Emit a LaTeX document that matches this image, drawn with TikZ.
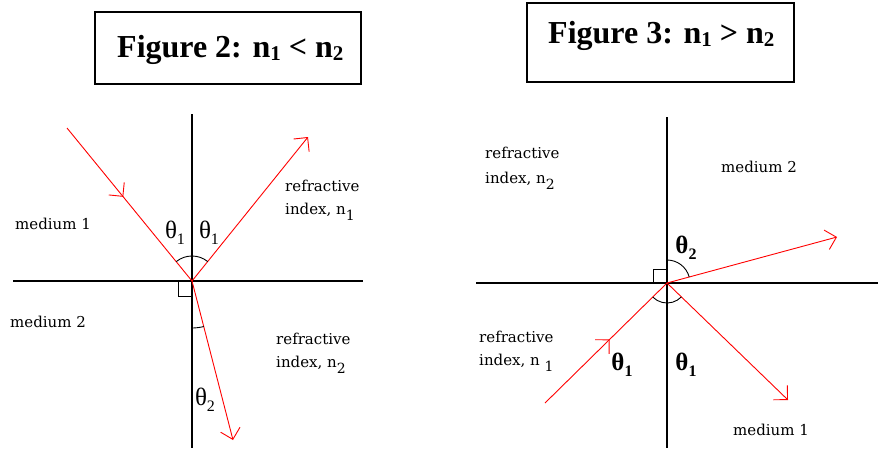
\documentclass[tikz,border=0pt]{standalone}
\usepackage{fontspec}
\setmainfont{Liberation Serif}
\newfontfamily\lblfont{DejaVu Serif}
\usetikzlibrary{arrows.meta,decorations.markings}
\tikzset{
  axis/.style={line width=1.4pt, black},
  ray/.style={red, line width=0.9pt},
  endtip/.style={-{Straight Barb[length=10pt,width=20pt]}},
  midtip/.style={postaction={decorate}, decoration={markings, mark=at position #1 with {\arrow{Straight Barb[length=10pt,width=20pt]}}}},
  anglearc/.style={black, line width=0.9pt},
  lbl/.style={font=\lblfont\fontsize{15}{17}\selectfont, inner sep=0pt, anchor=base west},
  th/.style={font=\fontsize{25}{25}\selectfont, inner sep=0pt},
  thb/.style={font=\bfseries\fontsize{25}{25}\selectfont, inner sep=0pt},
  ttl/.style={font=\bfseries\fontsize{32}{32}\selectfont, inner sep=0pt, anchor=base west},
  titlebox/.style={black, line width=1.4pt}
}
\newcommand{\lsub}[1]{\raisebox{-6pt}{\fontsize{14}{14}\selectfont #1}}
\newcommand{\tsub}[1]{\raisebox{-6pt}{\fontsize{16}{16}\selectfont #1}}
\newcommand{\bsub}[1]{\raisebox{-3pt}{\fontsize{21}{21}\selectfont #1}}
\begin{document}
\begin{tikzpicture}[x=1pt,y=-1pt]
\useasboundingbox (0,0) rectangle (878,448);
% ---------- titles ----------
\draw[titlebox] (95,12) rectangle (361,84);
\node[ttl] (t1) at (117,57) {Figure 2: n\bsub{1} < n\bsub{2}};
\draw[titlebox] (527,3) rectangle (794,82);
\node[ttl] (t2) at (548,43) {Figure 3: n\bsub{1} > n\bsub{2}};
% ---------- Figure 2 ----------
\coordinate (O1) at (192,281);
\coordinate (v1t) at (192,114);
\coordinate (v1b) at (192,448);
\coordinate (h1l) at (13,281);
\coordinate (h1r) at (363,281);
\coordinate (inc1) at (67,128);
\coordinate (refl1) at (308,137);
\coordinate (refr1) at (233,440);
\draw[axis] (v1t) -- (v1b);
\draw[axis] (h1l) -- (h1r);
\draw[ray, midtip=0.45] (inc1) -- (O1);
\draw[ray, endtip] (O1) -- (refl1);
\draw[ray, endtip] (O1) -- (refr1);
\draw[anglearc] ([shift={(-129:25)}]O1) arc[start angle=-129, end angle=-51, radius=25];
\draw[anglearc] ([shift={(75.5:47)}]O1) arc[start angle=75.5, end angle=90, radius=47];
\draw[black, line width=1pt] (O1) ++(0,15) -- ++(-14,0) -- ++(0,-15);
\node[lbl] (m1a) at (15,229) {medium 1};
\node[lbl] (m2a) at (10,327) {medium 2};
\node[lbl] (r1a) at (285,191) {refractive};
\node[lbl] (i1a) at (285,214) {index, n\lsub{1}};
\node[lbl] (r2a) at (276,344) {refractive};
\node[lbl] (i2a) at (276,367) {index, n\lsub{2}};
\node[th] (th1a) at (175,233) {θ\tsub{1}};
\node[th] (th1b) at (209,233) {θ\tsub{1}};
\node[th] (th2a) at (205,400) {θ\tsub{2}};
% ---------- Figure 3 ----------
\coordinate (O2) at (667,283);
\coordinate (v2t) at (667,117);
\coordinate (v2b) at (667,448);
\coordinate (h2l) at (476,283);
\coordinate (h2r) at (878,283);
\coordinate (inc2) at (545,403);
\coordinate (refr2) at (837,237);
\coordinate (refl2) at (788,400);
\draw[axis] (v2t) -- (v2b);
\draw[axis] (h2l) -- (h2r);
\draw[ray, midtip=0.53] (inc2) -- (O2);
\draw[ray, endtip] (O2) -- (refr2);
\draw[ray, endtip] (O2) -- (refl2);
\draw[anglearc] ([shift={(-90:23)}]O2) arc[start angle=-90, end angle=-15, radius=23];
\draw[anglearc] ([shift={(44:20)}]O2) arc[start angle=44, end angle=135.5, radius=20];
\draw[black, line width=1pt] (O2) ++(0,-14) -- ++(-14,0) -- ++(0,14);
\node[lbl] (r1b) at (485,158) {refractive};
\node[lbl] (i1b) at (485,183) {index, n\lsub{2}};
\node[lbl] (m2b) at (721,172) {medium 2};
\node[lbl] (r2b) at (479,342) {refractive};
\node[lbl] (i2b) at (479,365) {index, n \lsub{1}};
\node[lbl] (m1b) at (733,435) {medium 1};
\node[thb] (th2b) at (686,248) {θ\tsub{2}};
\node[thb] (th1c) at (622,365) {θ\tsub{1}};
\node[thb] (th1d) at (686,365) {θ\tsub{1}};
\end{tikzpicture}
\end{document}
